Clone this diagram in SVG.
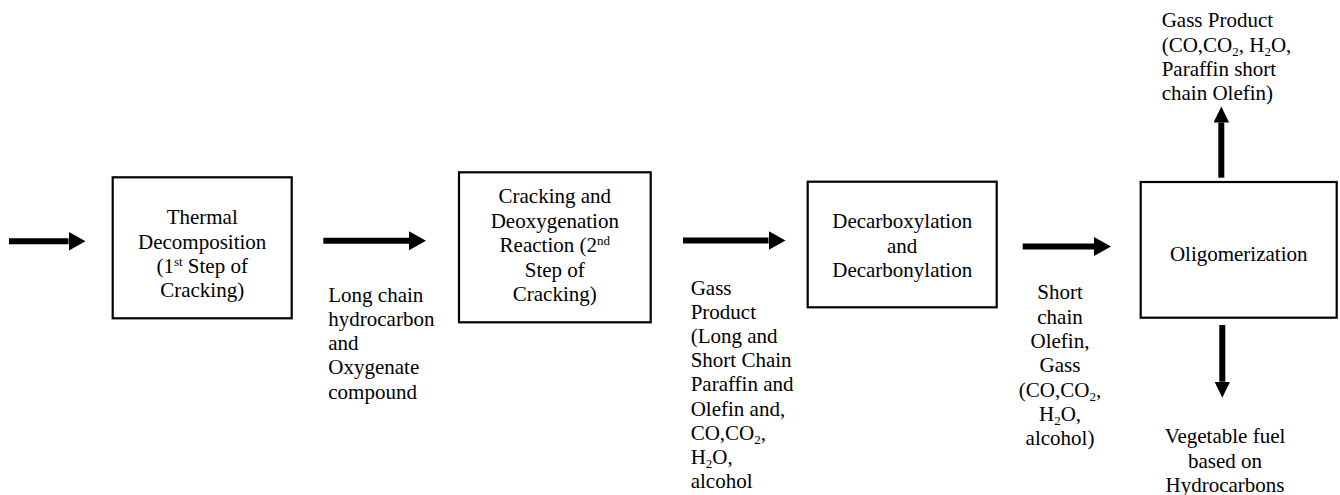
<svg xmlns="http://www.w3.org/2000/svg" width="1340" height="495" viewBox="0 0 1340 495">
<style>
  .box { fill: #ffffff; stroke: #000000; stroke-width: 2.2; }
  .t { font-family: "Liberation Serif", "Times New Roman", serif; font-size: 21px; fill: #000000; }
  .c { text-anchor: middle; }
  .conn { stroke: #000000; stroke-width: 6; fill: none; }
  .sm { font-size: 13px; }
</style>
<defs>
  <marker id="headH" markerUnits="userSpaceOnUse" markerWidth="18" markerHeight="20" refX="0" refY="9.5" orient="auto">
    <path d="M0,0 L17,9.5 L0,19 Z" fill="#000000"/>
  </marker>
  <marker id="headV" markerUnits="userSpaceOnUse" markerWidth="17" markerHeight="17" refX="0" refY="7.75" orient="auto">
    <path d="M0,0 L16,7.75 L0,15.5 Z" fill="#000000"/>
  </marker>
</defs>
<rect width="1340" height="495" fill="#ffffff"/>

<g id="connectors">
  <line class="conn" x1="9" y1="241.3" x2="68.5" y2="241.3" marker-end="url(#headH)"/>
  <line class="conn" x1="323.3" y1="240.7" x2="409" y2="240.7" marker-end="url(#headH)"/>
  <line class="conn" x1="683" y1="240.5" x2="768.5" y2="240.5" marker-end="url(#headH)"/>
  <line class="conn" x1="1022.7" y1="246.5" x2="1094" y2="246.5" marker-end="url(#headH)"/>
  <line class="conn" x1="1221.3" y1="177.7" x2="1221.3" y2="122.5" marker-end="url(#headV)"/>
  <line class="conn" x1="1222.3" y1="325" x2="1222.3" y2="381.7" marker-end="url(#headV)"/>
</g>

<g id="node-thermal">
  <rect class="box" x="112.7" y="177.3" width="179" height="141"/>
  <text class="t c" x="202.2" y="224.3">Thermal</text>
  <text class="t c" x="202.2" y="248.5">Decomposition</text>
  <text class="t c" x="202.2" y="272.7">(1<tspan class="sm" dy="-7">st</tspan><tspan dy="7"> Step of</tspan></text>
  <text class="t c" x="202.2" y="296.9">Cracking)</text>
</g>

<g id="node-cracking">
  <rect class="box" x="459" y="172.3" width="191.7" height="150"/>
  <text class="t c" x="554.8" y="203.3">Cracking and</text>
  <text class="t c" x="554.8" y="227.7">Deoxygenation</text>
  <text class="t c" x="554.8" y="252.1">Reaction (2<tspan class="sm" dy="-7">nd</tspan></text>
  <text class="t c" x="554.8" y="276.5">Step of</text>
  <text class="t c" x="554.8" y="300.9">Cracking)</text>
</g>

<g id="node-decarboxylation">
  <rect class="box" x="807.7" y="181.7" width="189" height="125.6"/>
  <text class="t c" x="902.2" y="228.3">Decarboxylation</text>
  <text class="t c" x="902.2" y="252.7">and</text>
  <text class="t c" x="902.2" y="277.1">Decarbonylation</text>
</g>

<g id="node-oligomerization">
  <rect class="box" x="1140.7" y="182" width="196" height="135.7"/>
  <text class="t c" x="1238.7" y="261">Oligomerization</text>
</g>

<g id="label-long-chain">
  <text class="t" x="328.3" y="301.7">Long chain</text>
  <text class="t" x="328.3" y="325.9">hydrocarbon</text>
  <text class="t" x="328.3" y="350.1">and</text>
  <text class="t" x="328.3" y="374.3">Oxygenate</text>
  <text class="t" x="328.3" y="398.5">compound</text>
</g>

<g id="label-gass-product-1">
  <text class="t" x="690.7" y="295">Gass</text>
  <text class="t" x="690.7" y="319.1">Product</text>
  <text class="t" x="690.7" y="343.2">(Long and</text>
  <text class="t" x="690.7" y="367.3">Short Chain</text>
  <text class="t" x="690.7" y="391.4">Paraffin and</text>
  <text class="t" x="690.7" y="415.5">Olefin and,</text>
  <text class="t" x="690.7" y="439.6">CO,CO<tspan class="sm" dy="4">2</tspan><tspan dy="-4">,</tspan></text>
  <text class="t" x="690.7" y="463.7">H<tspan class="sm" dy="4">2</tspan><tspan dy="-4">O,</tspan></text>
  <text class="t" x="690.7" y="487.8">alcohol</text>
</g>

<g id="label-short-chain">
  <text class="t c" x="1060" y="299.3">Short</text>
  <text class="t c" x="1060" y="323.6">chain</text>
  <text class="t c" x="1060" y="347.9">Olefin,</text>
  <text class="t c" x="1060" y="372.2">Gass</text>
  <text class="t c" x="1060" y="396.5">(CO,CO<tspan class="sm" dy="4">2</tspan><tspan dy="-4">,</tspan></text>
  <text class="t c" x="1060" y="420.8">H<tspan class="sm" dy="4">2</tspan><tspan dy="-4">O,</tspan></text>
  <text class="t c" x="1060" y="445.1">alcohol)</text>
</g>

<g id="label-gass-product-top">
  <text class="t" x="1161.7" y="27.3">Gass Product</text>
  <text class="t" x="1161.7" y="51.6">(CO,CO<tspan class="sm" dy="4">2</tspan><tspan dy="-4">, H</tspan><tspan class="sm" dy="4">2</tspan><tspan dy="-4">O,</tspan></text>
  <text class="t" x="1161.7" y="75.9">Paraffin short</text>
  <text class="t" x="1161.7" y="100.2">chain Olefin)</text>
</g>

<g id="label-vegetable-fuel">
  <text class="t c" x="1225" y="443.3">Vegetable fuel</text>
  <text class="t c" x="1225" y="467.6">based on</text>
  <text class="t c" x="1225" y="491.9">Hydrocarbons</text>
</g>
</svg>
